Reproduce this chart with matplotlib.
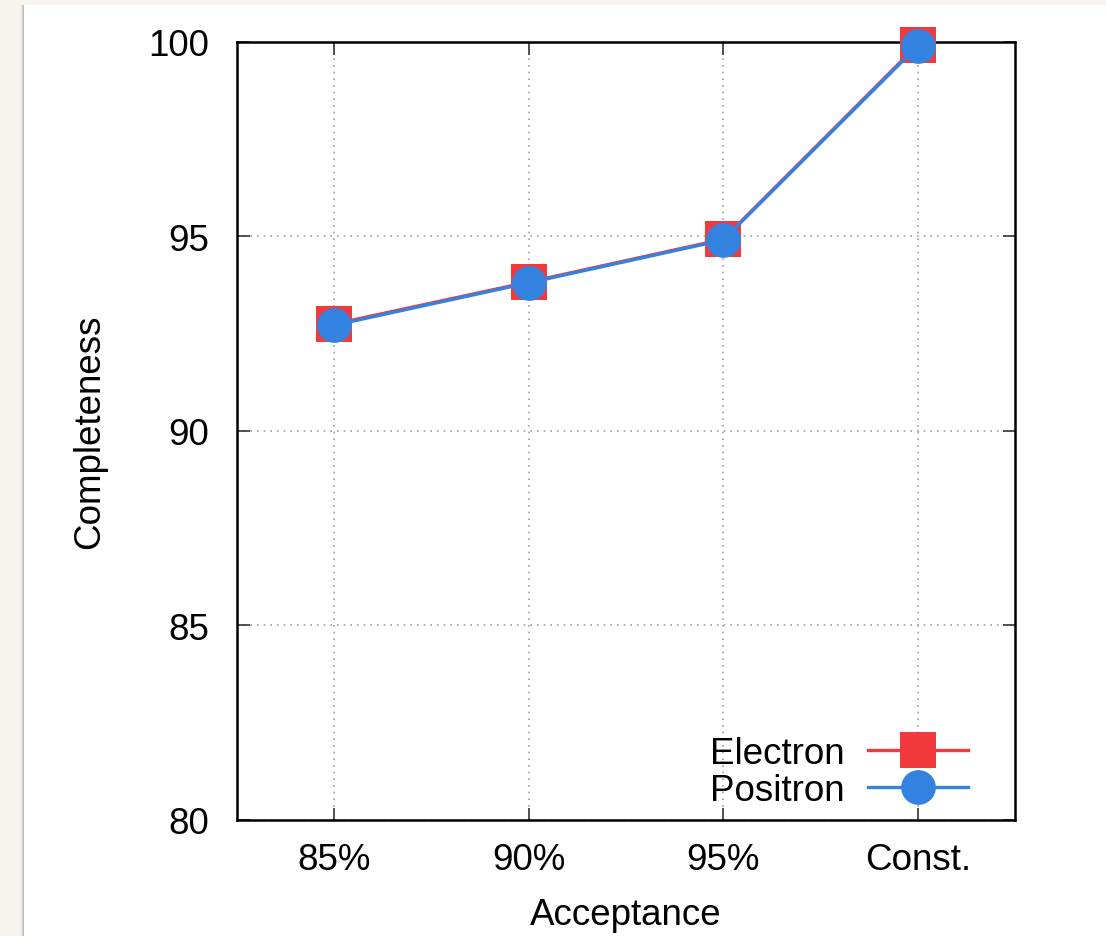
import matplotlib
matplotlib.use("Agg")
import matplotlib.pyplot as plt
from matplotlib.patches import Rectangle

categories = ["85%", "90%", "95%", "Const."]
electron = [92.75, 93.83, 94.93, 99.93]
positron = [92.72, 93.81, 94.91, 99.90]
yticks = [80, 85, 90, 95, 100]

plt.rcParams['font.family'] = ['Liberation Sans', 'DejaVu Sans']
FS = 26.5

fig = plt.figure(figsize=(11.06, 9.37), dpi=100)
fig.patch.set_facecolor('#f7f4ee')
W, H = 1106, 937
for i, a in enumerate([0.05, 0.08, 0.12]):
    fig.patches.append(Rectangle(((24 - 3 + i) / W, 0), 1, (H - 6) / H,
                                 transform=fig.transFigure, facecolor='#000000',
                                 alpha=a, edgecolor='none', zorder=-3))
fig.patches.append(Rectangle((24 / W, 0), 1, (H - 6) / H, transform=fig.transFigure,
                             facecolor='white', edgecolor='none', zorder=-2))

ax = fig.add_axes([237 / W, 1 - 821 / H, (1015 - 237) / W, (821 - 43) / H])
ax.set_facecolor('white')
x = list(range(len(categories)))
ax.plot(x, electron, color='#f23a3c', lw=2.4, marker='s', markersize=26,
        markeredgewidth=0, label='Electron', zorder=3, clip_on=False)
ax.plot(x, positron, color='#3382e0', lw=2.4, marker='o', markersize=25,
        markeredgewidth=0, label='Positron', zorder=4, clip_on=False)

ax.set_xlim(-0.5, 3.5)
ax.set_ylim(80, 100)
ax.set_xticks(x)
ax.set_xticklabels(categories)
ax.set_yticks(yticks)
ax.grid(True, color='#a0a0a0', linestyle=(0, (1, 3)), linewidth=1.2)
ax.set_axisbelow(True)
for s in ax.spines.values():
    s.set_linewidth(1.8)
    s.set_color('black')
ax.tick_params(direction='in', length=9, width=1.3, color='#444444',
               top=True, right=True, labelsize=FS, pad=16)
ax.tick_params(axis='y', pad=20)
ax.set_xlabel('Acceptance', fontsize=FS, labelpad=14)
ax.set_ylabel('Completeness', fontsize=FS, labelpad=30)

leg = ax.legend(loc='lower right', markerfirst=False, frameon=False, fontsize=FS,
                handlelength=2.7, handletextpad=0.65, labelspacing=0.05,
                borderaxespad=0.0, bbox_to_anchor=(0.958, -0.003))

fig.savefig('out.png', dpi=100, facecolor=fig.get_facecolor())
